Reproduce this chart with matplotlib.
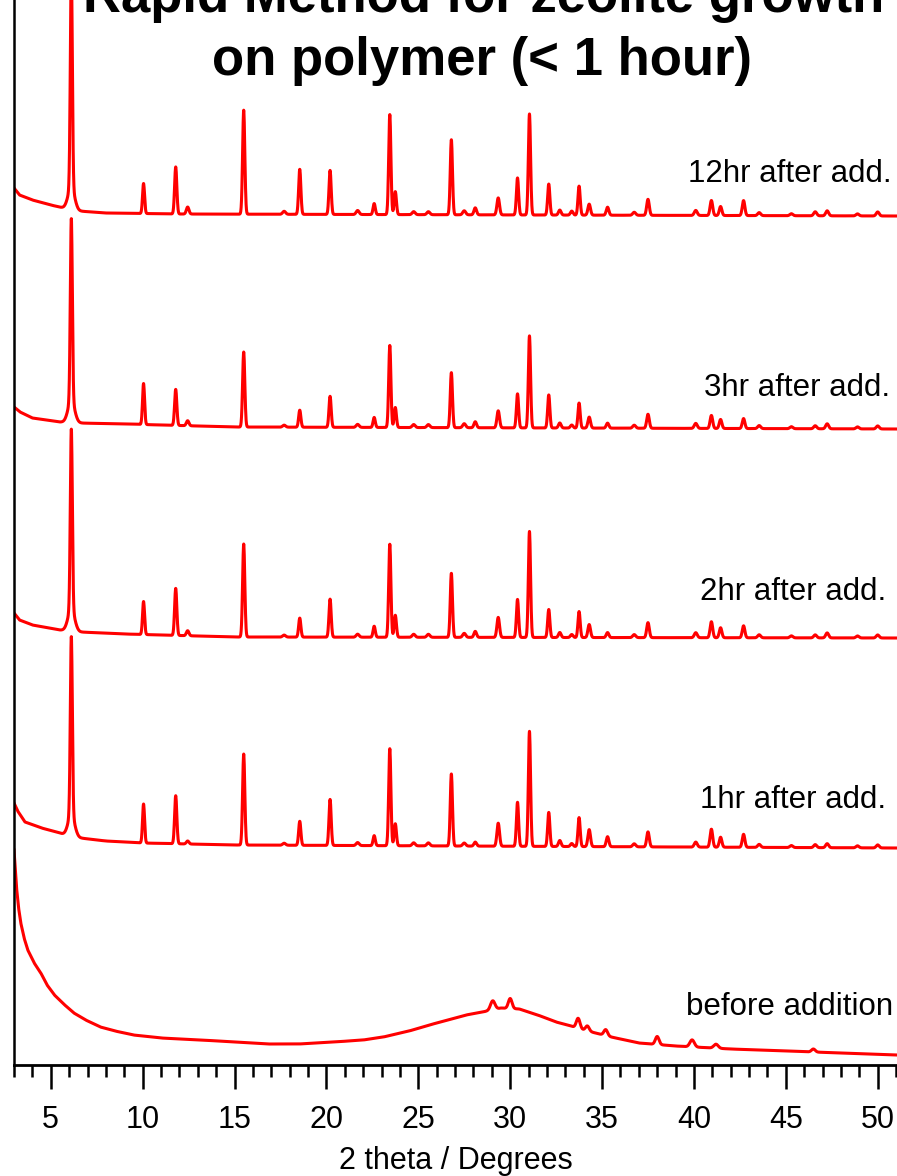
import numpy as np
import matplotlib
matplotlib.use("Agg")
import matplotlib.pyplot as plt
from matplotlib.ticker import MultipleLocator

plt.rcParams['font.family'] = ['Liberation Sans', 'DejaVu Sans']

W, H = 897, 1176
AX_BOTTOM = 1065  # pixel row of the x axis

# peak positions (2 theta) shared by the crystalline patterns
peak_pos = [6.12, 6.12, 10.05, 11.8, 12.45, 15.5, 17.7, 18.55, 20.2, 21.7, 22.6,
            23.45, 23.75, 24.75, 25.55, 26.8, 27.5, 28.1, 29.35, 30.4, 31.05,
            32.1, 32.7, 33.35, 33.75, 34.3, 35.3, 36.75, 37.5, 40.1, 40.95,
            41.45, 42.7, 43.55, 45.3, 46.6, 47.25, 48.9, 50.0]
peak_wid = [0.055, 0.18, 0.055, 0.06, 0.07, 0.06, 0.08, 0.06, 0.06, 0.08, 0.06,
            0.06, 0.06, 0.08, 0.08, 0.06, 0.08, 0.07, 0.07, 0.06, 0.06,
            0.06, 0.07, 0.07, 0.06, 0.07, 0.07, 0.08, 0.07, 0.08, 0.07,
            0.07, 0.07, 0.08, 0.08, 0.08, 0.08, 0.08, 0.08]

h_12hr = [215, 22, 30, 47, 7, 104, 3, 45, 44, 4, 11, 100, 23, 3, 3, 75, 4, 7, 17, 37,
          101, 31, 5, 4, 29, 11, 8, 3, 16, 5, 15, 9, 15, 3, 2, 4, 5, 2, 4]
h_3hr = [182, 22, 41, 36, 5, 75, 2, 17, 31, 3, 10, 82, 20, 3, 3, 55, 4, 6, 17, 34,
         92, 33, 5, 3, 25, 11, 5, 3, 14, 5, 13, 9, 10, 3, 2, 3, 5, 2, 3]
h_2hr = [180, 22, 33, 47, 5, 93, 2, 19, 38, 3, 11, 93, 22, 3, 3, 64, 4, 6, 20, 38,
         106, 28, 5, 3, 26, 13, 5, 3, 15, 5, 16, 10, 12, 3, 2, 3, 5, 2, 3]
h_1hr = [178, 22, 39, 48, 3, 91, 2, 24, 46, 3, 10, 97, 22, 3, 3, 72, 3, 4, 23, 44,
         115, 34, 6, 3, 29, 17, 10, 3, 15, 5, 18, 10, 13, 3, 2, 3, 4, 2, 3]

# baselines: (2 theta, pixel row)
base_12hr = [(3.0, 188), (3.3, 195), (4.0, 200), (5.0, 205), (5.7, 208), (6.5, 211),
             (8.0, 213), (12.0, 214), (51.05, 216)]
base_3hr = [(3.0, 407), (3.33, 412), (4.0, 418), (5.5, 422), (6.5, 423), (9.0, 424),
            (15.0, 427), (51.05, 429)]
base_2hr = [(3.0, 613), (3.3, 620), (4.0, 625), (5.5, 630), (6.6, 632), (9.0, 634),
            (15.0, 637), (51.05, 638)]
base_1hr = [(3.0, 803), (3.2, 811), (3.6, 822), (4.5, 828), (5.5, 833), (5.9, 836),
            (6.6, 838), (8.0, 841), (10.0, 843), (15.0, 845), (51.05, 848)]

# before addition: amorphous background plus weak reflections
base_before = [(3.0, 850), (3.08, 872), (3.15, 890), (3.25, 908), (3.37, 923),
               (3.55, 938), (3.75, 950), (4.1, 963), (4.46, 973), (4.8, 985),
               (5.2, 995), (5.7, 1004), (6.26, 1013), (6.9, 1020), (7.7, 1027),
               (8.5, 1031), (9.5, 1035), (11.0, 1038), (13.2, 1040), (15.0, 1042),
               (16.8, 1044), (18.5, 1044), (20.4, 1042), (22.0, 1040), (23.1, 1037),
               (24.5, 1031), (25.6, 1025), (26.6, 1020), (27.6, 1015), (28.5, 1012),
               (29.5, 1008), (30.5, 1009), (31.5, 1015), (32.5, 1022), (33.3, 1026),
               (34.0, 1030), (35.5, 1037), (37.0, 1043), (39.0, 1046), (42.0, 1049),
               (45.0, 1051), (48.0, 1053), (51.05, 1055)]
before_pos = [29.05, 30.0, 33.7, 34.2, 35.2, 38.0, 39.9, 41.2, 46.5]
before_wid = [0.12, 0.1, 0.1, 0.1, 0.1, 0.1, 0.12, 0.12, 0.1]
before_h = [9, 10, 10, 5, 6, 8, 7, 4, 3]

labels = ['12hr after add.', '3hr after add.', '2hr after add.', '1hr after add.',
          'before addition']
label_x = [892, 890, 886, 886, 893]
label_base = [182, 396, 600, 808, 1015]

x = np.arange(3.0, 51.06, 0.01)


def pattern(base, pos, wid, hts):
    bx = [b[0] for b in base]
    by = [AX_BOTTOM - b[1] for b in base]
    y = np.interp(x, bx, by)
    for p, w, h in zip(pos, wid, hts):
        y = y + h * np.exp(-0.5 * ((x - p) / w) ** 2)
    return y


fig = plt.figure(figsize=(W / 100, H / 100), dpi=100)
ax = fig.add_axes([14 / W, 1 - AX_BOTTOM / H, 1 - 14 / W, AX_BOTTOM / H])

for base, hts in [(base_12hr, h_12hr), (base_3hr, h_3hr), (base_2hr, h_2hr),
                  (base_1hr, h_1hr)]:
    ax.plot(x, pattern(base, peak_pos, peak_wid, hts), color='#ff0000', lw=2.2)
ax.plot(x, pattern(base_before, before_pos, before_wid, before_h), color='#ff0000', lw=2.2)

ax.set_xlim(3, 51.05)
ax.set_ylim(0, AX_BOTTOM)
ax.set_yticks([])
for s in ['top', 'right']:
    ax.spines[s].set_visible(False)
ax.spines['left'].set_linewidth(1.8)
ax.spines['bottom'].set_linewidth(2.0)
ax.xaxis.set_major_locator(MultipleLocator(5))
ax.xaxis.set_minor_locator(MultipleLocator(1))
ax.tick_params(axis='x', which='major', direction='out', length=17, width=1.8,
               labelsize=22, pad=12)
ax.tick_params(axis='x', which='minor', direction='out', length=8.5, width=1.8)
ax.set_xlabel('2 theta / Degrees', fontsize=22, labelpad=8)

for t, lx, lb in zip(labels, label_x, label_base):
    fig.text(lx / W, 1 - lb / H, t, ha='right', va='baseline', fontsize=22.5)

fig.text(484 / W, 1 - 12 / H, 'Rapid Method for zeolite growth', ha='center',
         va='baseline', fontsize=38, fontweight='bold')
fig.text(482 / W, 1 - 75 / H, 'on polymer (< 1 hour)', ha='center',
         va='baseline', fontsize=38, fontweight='bold')

fig.savefig('out.png', dpi=100)
